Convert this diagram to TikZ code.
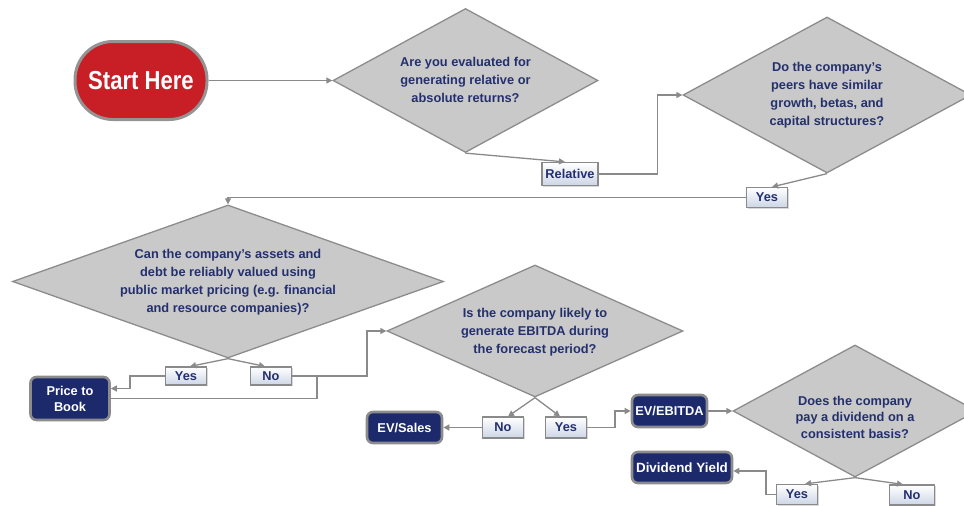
\documentclass[tikz,border=0pt]{standalone}
\usepackage{fontspec}
\setmainfont{Liberation Sans}
\usetikzlibrary{shapes.geometric,arrows.meta,shadows,calc}

\definecolor{navy}{RGB}{28,42,108}
\definecolor{navytext}{RGB}{36,48,110}
\definecolor{diafill}{RGB}{201,201,201}
\definecolor{diaborder}{RGB}{140,140,140}
\definecolor{linegray}{RGB}{138,138,138}
\definecolor{startred}{RGB}{200,30,38}
\definecolor{labbottom}{RGB}{205,214,230}

\newcommand\qfont{\fontsize{12.8}{18}\selectfont\bfseries}

\tikzset{
  conn/.style={draw=linegray, line width=1.3pt},
  arr/.style={conn, -{Triangle[width=6pt,length=6pt]}},
  dia/.style={shape=diamond, draw=diaborder, fill=diafill, line width=1.3pt, inner sep=0pt},
  qtext/.style={align=center, text=navytext, font=\qfont, inner sep=0pt},
  lab/.style={draw=linegray, line width=1.2pt, top color=white, bottom color=labbottom,
    text=navytext, font=\qfont, minimum height=20pt, minimum width=41pt, inner xsep=3.5pt,
    drop shadow={shadow xshift=1.2pt, shadow yshift=-1.2pt, fill=black!25, opacity=0.6}},
  result/.style={draw=black!45, line width=2.6pt, fill=navy, rounded corners=6pt,
    text=white, font=\qfont, align=center, inner sep=2pt},
}

\begin{document}
\begin{tikzpicture}[x=1pt, y=-1pt]
\useasboundingbox (0,0) rectangle (964,506);

% start terminal
\node[draw=black!42, line width=3pt, fill=startred, rounded corners=38pt,
      minimum width=132pt, minimum height=78pt, inner sep=0pt,
      text=white, font=\fontsize{26}{30}\selectfont\bfseries]
      (start) at (141,80.5) {\scalebox{0.85}[1]{Start Here}};

% decision diamonds
\node[dia, minimum width=265pt, minimum height=144pt] (d1) at (465.5,80.5) {};
\node[qtext] (d1t) at (465.5,80) {Are you evaluated for\\generating relative or\\absolute returns?};

\node[dia, minimum width=288pt, minimum height=156pt] (d2) at (827,95) {};
\node[qtext] (d2t) at (827,95) {Do the company's\\peers have similar\\growth, betas, and\\capital structures?};

\node[dia, minimum width=431pt, minimum height=153pt] (d3) at (228,281.5) {};
\node[qtext] (d3t) at (228,282) {Can the company's assets and\\debt be reliably valued using\\public market pricing (e.g. financial\\and resource companies)?};

\node[dia, minimum width=296pt, minimum height=132pt] (d4) at (535,331) {};
\node[qtext] (d4t) at (535,332) {Is the company likely to\\generate EBITDA during\\the forecast period?};

\node[dia, minimum width=244pt, minimum height=132pt] (d5) at (855,411) {};
\node[qtext, font=\fontsize{12.8}{16.5}\selectfont\bfseries] (d5t) at (855,417) {Does the company\\pay a dividend on a\\consistent basis?};

% answer labels
\node[lab, minimum width=56pt, minimum height=23pt] (rel) at (570,174) {Relative};
\node[lab] (yes1) at (767,197.5) {Yes};
\node[lab, minimum height=18pt] (yes2) at (186,376) {Yes};
\node[lab, minimum height=18pt] (no2) at (271,376) {No};
\node[lab, minimum height=21pt] (no3) at (503,427.5) {No};
\node[lab, minimum height=21pt] (yes3) at (566,427.5) {Yes};
\node[lab] (yes4) at (797,494.5) {Yes};
\node[lab, minimum width=45pt] (no4) at (912,495) {No};

% valuation methods
\node[result, minimum width=79pt, minimum height=43pt, font=\fontsize{12.8}{16}\selectfont\bfseries] (ptb) at (70,398.5) {Price to\\Book};
\node[result, minimum width=75pt, minimum height=31pt] (evs) at (404.5,427.5) {EV/Sales};
\node[result, minimum width=75pt, minimum height=32pt] (eve) at (669.5,411) {EV/EBITDA};
\node[result, minimum width=100pt, minimum height=31pt, font=\fontsize{13.4}{16}\selectfont\bfseries] (dy) at (682,467.5) {Dividend Yield};

% connectors
\draw[arr] (start.east) -- (d1.west);
\draw[arr] (d1.south) -- ($(rel.north)+(-5,0)$);
\draw[arr] (rel.east) -- ++(59,0) |- (d2.west);
\draw[arr] (d2.south) -- ($(yes1.north)+(5,0)$);
\draw[arr] (yes1.west) -| (d3.north);

\draw[arr] (d3.south) -- ($(yes2.north)+(4,0)$);
\draw[arr] (d3.south) -- ($(no2.north)+(-6,0)$);
\draw[arr] (yes2.west) -- ++(-35,0) |- ($(ptb.east)+(0,-10)$);
\draw[arr] (no2.east) -- ++(75,0) |- (d4.west);
\coordinate (nb) at ($(no2.east)+(25,0)$);
\draw[conn] (nb) |- (ptb.east);

\draw[arr] (d4.south) -- ($(no3.north)+(5,0)$);
\draw[arr] (d4.south) -- ($(yes3.north)+(-6,0)$);
\draw[arr] (no3.west) -- (evs.east);
\draw[arr] (yes3.east) -- ++(28,0) |- (eve.west);
\draw[arr] (eve.east) -- (d5.west);

\draw[arr] (d5.south) -- ($(yes4.north)+(8,0)$);
\draw[arr] (d5.south) -- ($(no4.north)+(-9,0)$);
\draw[arr] (yes4.west) -- ++(-10,0) |- ($(dy.east)+(0,3.5)$);
\end{tikzpicture}
\end{document}
